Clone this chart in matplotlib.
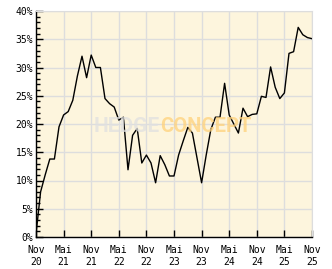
import matplotlib
matplotlib.use("Agg")
import matplotlib.pyplot as plt
import numpy as np

# Monthly values, Nov 2020 .. Nov 2025 (percent)
months = np.arange(61)
values = [0.5, 8.0, 11.0, 13.8, 13.8, 19.5, 21.6, 22.2, 24.2, 28.5,
          32.0, 28.2, 32.2, 30.0, 30.0, 24.5, 23.6, 23.0, 20.7, 21.2,
          11.9, 18.0, 19.2, 13.1, 14.5, 13.1, 9.6, 14.4, 12.8, 10.8,
          10.8, 14.5, 17.0, 19.4, 18.4, 14.0, 9.6, 14.5, 19.0, 21.2,
          21.2, 27.2, 21.6, 20.0, 18.4, 22.8, 21.3, 21.7, 21.8, 24.9,
          24.7, 30.1, 26.5, 24.5, 25.5, 32.5, 32.8, 37.1, 35.8, 35.3,
          35.1]
x_ticks = [0, 6, 12, 18, 24, 30, 36, 42, 48, 54, 60]
x_labels = ["Nov\n20", "Mai\n21", "Nov\n21", "Mai\n22", "Nov\n22", "Mai\n23",
            "Nov\n23", "Mai\n24", "Nov\n24", "Mai\n25", "Nov\n25"]
y_ticks = [0, 5, 10, 15, 20, 25, 30, 35, 40]

fig = plt.figure(figsize=(3.32, 2.69), dpi=100)
ax = fig.add_axes([36 / 332, 32 / 269, 276 / 332, 226 / 269])
ax.set_facecolor("#fdf5dd")

ax.plot(months, values, color="black", linewidth=1.0, zorder=3)

ax.set_xlim(0, 60)
ax.set_ylim(0, 40)
ax.set_xticks(x_ticks)
ax.set_xticklabels(x_labels, family="DejaVu Sans Mono", fontsize=7, linespacing=1.25)
ax.set_yticks(y_ticks)
ax.set_yticklabels([f"{v}%" for v in y_ticks], family="DejaVu Sans Mono", fontsize=7)
ax.set_yticks(np.arange(0, 41, 1), minor=True)
ax.tick_params(axis="both", direction="in", length=5, width=1)
ax.tick_params(axis="x", pad=6)
ax.tick_params(axis="y", pad=2)
ax.tick_params(axis="y", which="minor", direction="in", length=3, width=1)
ax.grid(True, color="#dddddd", linewidth=1, zorder=1)
ax.set_axisbelow(True)

for side in ["top", "right"]:
    ax.spines[side].set_color("#dddddd")
for side in ["left", "bottom"]:
    ax.spines[side].set_color("black")
    ax.spines[side].set_linewidth(1)

# watermark
ax.text(0.449, 0.49, "HEDGE", transform=ax.transAxes, ha="right", va="center",
        family="Roboto", fontsize=15, fontweight="bold", color="#e0e0e0", alpha=0.75, zorder=4)
ax.text(0.451, 0.49, "CONCEPT", transform=ax.transAxes, ha="left", va="center",
        family="Roboto", fontsize=14.5, fontweight="bold", color="#ffd27a", alpha=0.75, zorder=4)

fig.savefig("out.png", dpi=100, facecolor="white")
